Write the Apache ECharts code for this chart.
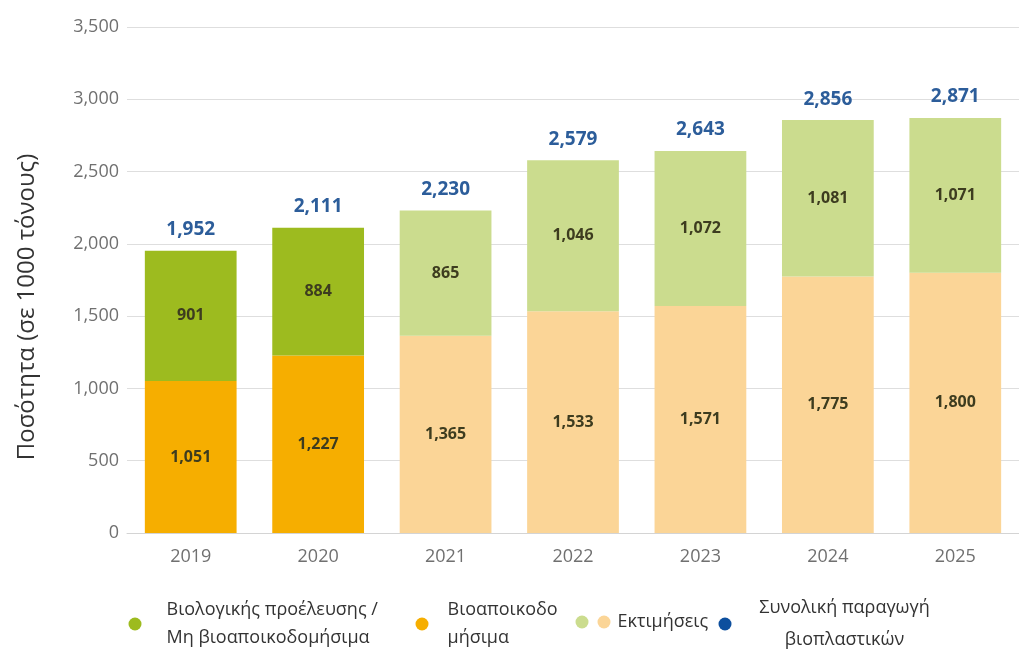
<!DOCTYPE html>
<html>
<head>
<meta charset="utf-8">
<script src="https://cdn.jsdelivr.net/npm/echarts@6/dist/echarts.min.js"></script>
<style>
  html, body { margin: 0; padding: 0; background: #ffffff; }
  #chart { width: 1019px; height: 650px; }
</style>
</head>
<body>
<div id="chart"></div>
<script>
// Bioplastics production capacity (thousand tonnes), 2019-2020 actual, 2021-2025 estimated
const years = ['2019', '2020', '2021', '2022', '2023', '2024', '2025'];
const biodegradable = [1051, 1227, 1365, 1533, 1571, 1775, 1800];
const biobasedNonBiodegradable = [901, 884, 865, 1046, 1072, 1081, 1071];
const totals = [1952, 2111, 2230, 2579, 2643, 2856, 2871];
const estimated = [false, false, true, true, true, true, true];
const yTicks = { min: 0, max: 3500, interval: 500 };

const NAME_BIO = 'Βιολογικής προέλευσης / Μη βιοαποικοδομήσιμα';
const NAME_DEG = 'Βιοαποικοδομήσιμα';
const NAME_EST = 'Εκτιμήσεις';
const NAME_TOT = 'Συνολική παραγωγή βιοπλαστικών';

const COL = {
  green: '#9dbb1f', greenEst: '#cbdc8e',
  orange: '#f6ae00', orangeEst: '#fbd597',
  blue: '#0d4f9e', blueLabel: '#2c5d9a',
  segLabel: '#3d3c1f'
};
const FONT = '"Open Sans", "Noto Sans", sans-serif';
const fmt = v => Number(v).toLocaleString('en-US');

const segLabel = {
  show: true, position: 'inside', color: COL.segLabel,
  fontFamily: FONT, fontWeight: 'bold', fontSize: 16,
  formatter: p => fmt(p.value)
};

function colored(values, normal, est) {
  return values.map((v, i) => ({ value: v, itemStyle: { color: estimated[i] ? est : normal } }));
}

const legendText = { fontFamily: FONT, fontSize: 18, color: '#333333', lineHeight: 28 };
const legendBase = { padding: 0, icon: 'circle', itemWidth: 13, itemHeight: 13, selectedMode: false };

const chart = echarts.init(document.getElementById('chart'));
chart.setOption({
  animation: false,
  grid: { left: 127, right: -4, top: 27, bottom: 117, containLabel: false },
  xAxis: {
    type: 'category', data: years,
    axisLine: { lineStyle: { color: '#d4d4d4' } },
    axisTick: { show: false },
    axisLabel: { color: '#707070', fontFamily: FONT, fontSize: 18, margin: 15 }
  },
  yAxis: {
    type: 'value', min: yTicks.min, max: yTicks.max, interval: yTicks.interval,
    axisLine: { show: false }, axisTick: { show: false },
    axisLabel: { color: '#707070', fontFamily: FONT, fontSize: 18, margin: 8, formatter: v => fmt(v) },
    splitLine: { lineStyle: { color: '#dedede', width: 1 } }
  },
  legend: [
    Object.assign({}, legendBase, {
      data: [{ name: NAME_BIO, itemStyle: { color: COL.green } }],
      left: 128.5, top: 596,
      formatter: () => 'Βιολογικής προέλευσης /\nΜη βιοαποικοδομήσιμα',
      textStyle: Object.assign({ padding: [0, 0, 0, 20] }, legendText)
    }),
    Object.assign({}, legendBase, {
      data: [{ name: NAME_DEG, itemStyle: { color: COL.orange } }],
      left: 415.5, top: 596,
      formatter: () => 'Βιοαποικοδο\nμήσιμα',
      textStyle: Object.assign({ padding: [0, 0, 0, 14] }, legendText)
    }),
    Object.assign({}, legendBase, {
      data: [{ name: NAME_EST, itemStyle: { color: COL.greenEst } }],
      left: 575.5, top: 615.5,
      formatter: () => '',
      textStyle: legendText
    }),
    Object.assign({}, legendBase, {
      data: [{ name: NAME_EST, itemStyle: { color: COL.orangeEst } }],
      left: 597.5, top: 608,
      formatter: () => 'Εκτιμήσεις',
      textStyle: Object.assign({ padding: [0, 0, 0, 2] }, legendText)
    }),
    Object.assign({}, legendBase, {
      data: [{ name: NAME_TOT, itemStyle: { color: COL.blue, opacity: 1 } }],
      left: 718.5, top: 592,
      formatter: () => '{c|Συνολική παραγωγή}\n{c|βιοπλαστικών}',
      textStyle: Object.assign({}, legendText, {
        padding: [0, 0, 0, 8],
        rich: { c: { width: 200, align: 'center', fontFamily: FONT, fontSize: 18, color: '#333333', lineHeight: 32 } }
      })
    })
  ],
  graphic: [{
    type: 'text', rotation: Math.PI / 2,
    x: 27, y: 307,
    style: {
      text: 'Ποσότητα (σε 1000 τόνους)', font: '24px ' + FONT, fill: '#333333',
      textAlign: 'center', textVerticalAlign: 'middle'
    }
  }],
  series: [
    {
      name: NAME_DEG, type: 'bar', stack: 'prod', barCategoryGap: '28%',
      itemStyle: { color: COL.orange },
      data: colored(biodegradable, COL.orange, COL.orangeEst),
      label: segLabel, emphasis: { disabled: true }
    },
    {
      name: NAME_BIO, type: 'bar', stack: 'prod',
      itemStyle: { color: COL.green },
      data: colored(biobasedNonBiodegradable, COL.green, COL.greenEst),
      label: segLabel, emphasis: { disabled: true }
    },
    {
      name: NAME_EST, type: 'bar', stack: 'prod',
      itemStyle: { color: COL.greenEst },
      data: []
    },
    {
      name: NAME_TOT, type: 'line', data: totals,
      symbol: 'circle', symbolSize: 1, showSymbol: true,
      itemStyle: { color: 'rgba(0,0,0,0)' },
      lineStyle: { width: 0, color: 'rgba(0,0,0,0)' },
      emphasis: { disabled: true }, silent: true, z: 5,
      label: {
        show: true, position: 'top', distance: 11,
        color: COL.blueLabel, fontFamily: FONT, fontWeight: 'bold', fontSize: 19,
        formatter: p => fmt(p.value)
      }
    }
  ]
});
</script>
</body>
</html>
